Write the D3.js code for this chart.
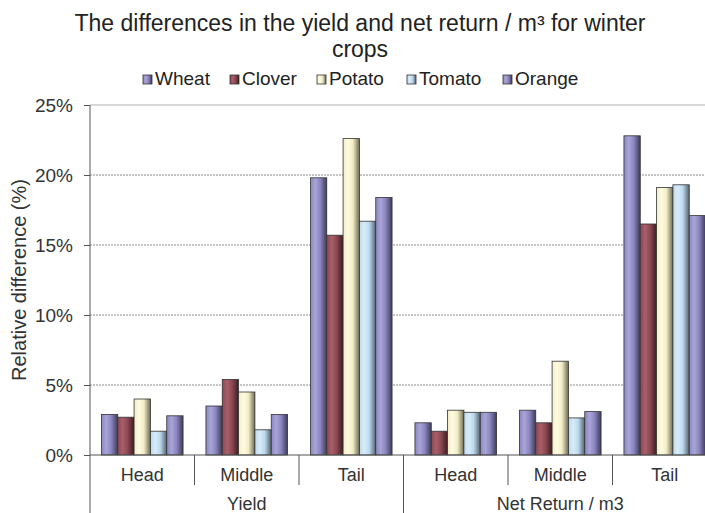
<!DOCTYPE html>
<html>
<head>
<meta charset="utf-8">
<script src="https://cdn.jsdelivr.net/npm/d3@7"></script>
<style>
  html, body { margin: 0; padding: 0; background: #fff; }
  svg { display: block; font-family: "Liberation Sans", Arial, sans-serif; }
</style>
</head>
<body>
<svg id="chart" width="705" height="513"></svg>
<script>
// ---- data ----
const groups = ["Yield", "Net Return / m3"];
const categories = ["Head", "Middle", "Tail"];
const crops = ["Wheat", "Clover", "Potato", "Tomato", "Orange"];
const wheat  = [2.9, 3.5, 19.8, 2.3, 3.2, 22.8];
const clover = [2.7, 5.4, 15.7, 1.7, 2.3, 16.5];
const potato = [4.0, 4.5, 22.6, 3.2, 6.7, 19.1];
const tomato = [1.7, 1.8, 16.7, 3.05, 2.65, 19.3];
const orange = [2.8, 2.9, 18.4, 3.05, 3.1, 17.1];
const yTicks = [0, 5, 10, 15, 20, 25];
const title1 = "The differences in the yield and net return / m³ for winter";
const title2 = "crops";
const yLabel = "Relative difference (%)";

// ---- colours (base, light, dark) ----
const colors = {
  Wheat:  ["#8b86c0", "#a9a5d8", "#3e3b58"],
  Clover: ["#8d4852", "#a85f6a", "#3b1e22"],
  Potato: ["#f2edc6", "#fffbe0", "#6e6a52"],
  Tomato: ["#bcd9ee", "#d8ecf8", "#55636e"],
  Orange: ["#8b86c0", "#a9a5d8", "#3e3b58"]
};

const series = crops.map((c, i) => ({ name: c, values: [wheat, clover, potato, tomato, orange][i] }));
const slots = [];
groups.forEach(g => categories.forEach(c => slots.push(g + "|" + c)));

const svg = d3.select("#chart");
const pLeft = 90, pTop = 105, pBottom = 455, pRight = 717;

const defs = svg.append("defs");
crops.forEach(c => {
  const [base, light, dark] = colors[c];
  const lg = defs.append("linearGradient").attr("id", "g-" + c)
    .attr("x1", "0").attr("x2", "1").attr("y1", "0").attr("y2", "0");
  lg.append("stop").attr("offset", "0").attr("stop-color", base);
  lg.append("stop").attr("offset", "0.3").attr("stop-color", light);
  lg.append("stop").attr("offset", "0.6").attr("stop-color", base);
  lg.append("stop").attr("offset", "1").attr("stop-color", dark);
});

const y = d3.scaleLinear().domain([0, 25]).range([pBottom, pTop]);
const x0 = d3.scaleBand().domain(slots).range([pLeft, pRight]).paddingInner(0).paddingOuter(0);
const x1 = d3.scaleBand().domain(crops).range([0, x0.bandwidth()]).paddingInner(0).paddingOuter(0.7);

// gridlines
svg.append("g").selectAll("line").data(yTicks.filter(t => t > 0 && t < 25)).join("line")
  .attr("x1", pLeft).attr("x2", 705)
  .attr("y1", d => y(d)).attr("y2", d => y(d))
  .attr("stroke", "#8a8a8a").attr("stroke-width", 1).attr("stroke-dasharray", "2,1");
// top border
svg.append("line").attr("x1", pLeft).attr("x2", 705).attr("y1", y(25)).attr("y2", y(25))
  .attr("stroke", "#b0b0b0").attr("stroke-width", 1.2);

// bars
series.forEach(s => {
  svg.append("g").selectAll("rect").data(s.values).join("rect")
    .attr("x", (d, i) => x0(slots[i]) + x1(s.name))
    .attr("y", d => y(d))
    .attr("width", x1.bandwidth())
    .attr("height", d => y(0) - y(d))
    .attr("fill", "url(#g-" + s.name + ")")
    .attr("stroke", "#333")
    .attr("stroke-width", 0.8);
});

// y axis
const yAxis = d3.axisLeft(y).tickValues(yTicks).tickFormat(d => d + "%").tickSize(6).tickSizeOuter(0);
const ya = svg.append("g").attr("transform", `translate(${pLeft},0)`).call(yAxis);
ya.select(".domain").remove();
ya.selectAll(".tick line").attr("stroke", "#555");
ya.selectAll(".tick text").attr("font-size", 19).attr("fill", "#333").attr("x", -17).attr("dy", "0.36em")
  .attr("font-family", "Liberation Sans, Arial, sans-serif");
svg.append("line").attr("x1", pLeft).attr("x2", pLeft).attr("y1", pTop).attr("y2", 513)
  .attr("stroke", "#555").attr("stroke-width", 1);

// x baseline
svg.append("line").attr("x1", pLeft).attr("x2", 705).attr("y1", pBottom).attr("y2", pBottom)
  .attr("stroke", "#555").attr("stroke-width", 1);

// category separators
slots.forEach((s, i) => {
  if (i === 0) return;
  const xx = x0(s);
  const isGroupEdge = i % categories.length === 0;
  svg.append("line").attr("x1", xx).attr("x2", xx).attr("y1", pBottom)
    .attr("y2", isGroupEdge ? 513 : 485).attr("stroke", "#555").attr("stroke-width", 1);
});

// category labels
svg.append("g").selectAll("text").data(slots).join("text")
  .attr("x", d => x0(d) + x0.bandwidth() / 2).attr("y", 481)
  .attr("text-anchor", "middle").attr("font-size", 18).attr("fill", "#333")
  .text(d => d.split("|")[1]);

// group labels
groups.forEach((g, gi) => {
  const a = x0(g + "|" + categories[0]);
  const b = x0(g + "|" + categories[categories.length - 1]) + x0.bandwidth();
  svg.append("text").attr("x", (a + b) / 2).attr("y", 510)
    .attr("text-anchor", "middle").attr("font-size", 18).attr("fill", "#333").text(g);
});

// y label
svg.append("text").attr("transform", `translate(26,280) rotate(-90)`)
  .attr("text-anchor", "middle").attr("font-size", 20).attr("fill", "#333").text(yLabel);

// title
svg.append("text").attr("x", 360).attr("y", 31).attr("text-anchor", "middle")
  .attr("font-size", 23).attr("fill", "#222").text(title1);
svg.append("text").attr("x", 360).attr("y", 57).attr("text-anchor", "middle")
  .attr("font-size", 23).attr("fill", "#222").text(title2);

// legend
const legendX = [143, 230, 317, 407, 503];
const lgd = svg.append("g");
crops.forEach((c, i) => {
  lgd.append("rect").attr("x", legendX[i]).attr("y", 75).attr("width", 9).attr("height", 9)
    .attr("fill", "url(#g-" + c + ")").attr("stroke", "#333").attr("stroke-width", 0.8);
  lgd.append("text").attr("x", legendX[i] + 12).attr("y", 85).attr("font-size", 19).attr("fill", "#222").text(c);
});
</script>
</body>
</html>
